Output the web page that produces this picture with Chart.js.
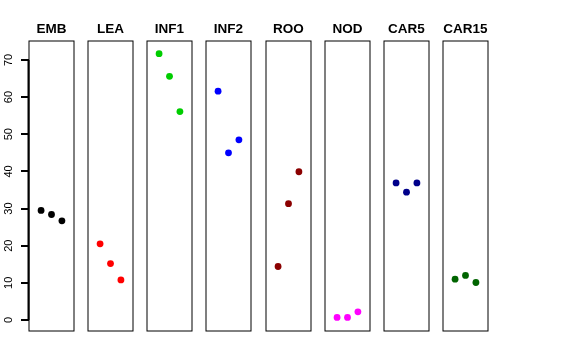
<!DOCTYPE html>
<html>
<head>
<meta charset="utf-8">
<script src="https://cdn.jsdelivr.net/npm/chart.js@4/dist/chart.umd.min.js"></script>
<style>
  html, body { margin: 0; padding: 0; background: #ffffff; }
  #wrap { position: relative; width: 576px; height: 360px; overflow: hidden; background: #ffffff; }
  canvas { position: absolute; top: 0; }
</style>
</head>
<body>
<div id="wrap"></div>
<script>
// ---- data ----
const categories = ["EMB", "LEA", "INF1", "INF2", "ROO", "NOD", "CAR5", "CAR15"];
const replicates = [1, 2, 3];
const valuesEMB   = [29.5, 28.4, 26.7];
const valuesLEA   = [20.5, 15.2, 10.8];
const valuesINF1  = [71.7, 65.6, 56.1];
const valuesINF2  = [61.6, 45.0, 48.5];
const valuesROO   = [14.4, 31.3, 39.9];
const valuesNOD   = [0.7, 0.7, 2.2];
const valuesCAR5  = [36.9, 34.4, 36.9];
const valuesCAR15 = [11.0, 12.0, 10.1];
const seriesValues = [valuesEMB, valuesLEA, valuesINF1, valuesINF2, valuesROO, valuesNOD, valuesCAR5, valuesCAR15];
const colors = ["#000000", "#FF0000", "#00CD00", "#0000FF", "#8B0000", "#FF00FF", "#00008B", "#006400"];
const yTicks = [0, 10, 20, 30, 40, 50, 60, 70];

// ---- layout ----
const Y_MIN = -2.96, Y_MAX = 75.1;
const X_MIN = -0.16, X_MAX = 4.16;
const boxLefts = [29, 88, 147, 206, 266, 325, 384, 443];
const boxW = 45;
const H = 360;
const TICK_LEN = 8;
const FONT = "'Liberation Sans', Arial, Helvetica, sans-serif";

const boxPlugin = {
  id: 'panelBox',
  afterDraw(chart) {
    const a = chart.chartArea, ctx = chart.ctx;
    ctx.save();
    ctx.strokeStyle = '#000000';
    ctx.lineWidth = 1;
    ctx.strokeRect(Math.round(a.left), Math.round(a.top), Math.round(a.right - a.left), Math.round(a.bottom - a.top));
    ctx.restore();
  }
};

const axisPlugin = {
  id: 'leftAxis',
  afterDraw(chart) {
    const a = chart.chartArea, ctx = chart.ctx;
    const ys = chart.scales.y;
    const ax = Math.round(a.left);
    ctx.save();
    ctx.strokeStyle = '#000000';
    ctx.lineWidth = 2;
    ctx.beginPath();
    ctx.moveTo(ax - 0.5, Math.round(ys.getPixelForValue(yTicks[0])));
    ctx.lineTo(ax - 0.5, Math.round(ys.getPixelForValue(yTicks[yTicks.length - 1])));
    ctx.stroke();
    for (const v of yTicks) {
      const py = Math.round(ys.getPixelForValue(v));
      ctx.beginPath();
      ctx.moveTo(ax - TICK_LEN, py);
      ctx.lineTo(ax, py);
      ctx.stroke();
    }
    ctx.restore();
  }
};

const wrap = document.getElementById('wrap');
categories.forEach((name, i) => {
  const first = i === 0;
  const padL = first ? 0 : 8;
  const padR = 8;
  const width = first ? boxLefts[0] + boxW + padR : padL + boxW + padR;
  const left = first ? 0 : boxLefts[i] - padL;
  const cv = document.createElement('canvas');
  cv.width = width; cv.height = H;
  cv.style.left = left + 'px';
  cv.style.width = width + 'px'; cv.style.height = H + 'px';
  wrap.appendChild(cv);

  new Chart(cv, {
    type: 'scatter',
    data: {
      datasets: [{
        data: replicates.map((x, k) => ({ x: x, y: seriesValues[i][k] })),
        backgroundColor: colors[i],
        borderColor: colors[i],
        borderWidth: 0,
        pointRadius: 3.4,
        pointHoverRadius: 3.4
      }]
    },
    options: {
      responsive: false,
      animation: false,
      devicePixelRatio: 1,
      events: [],
      layout: { padding: { left: padL, right: padR, top: 0, bottom: H - 331 } },
      plugins: {
        legend: { display: false },
        tooltip: { enabled: false },
        title: {
          display: true,
          text: name,
          fullSize: false,
          color: '#000000',
          font: { family: FONT, size: 13.5, weight: 'bold' },
          padding: { top: 21.5, bottom: 3.3 }
        }
      },
      scales: {
        x: { type: 'linear', min: X_MIN, max: X_MAX, display: false },
        y: {
          type: 'linear',
          min: Y_MIN, max: Y_MAX,
          display: first,
          position: 'left',
          afterFit(scale) { if (first) { scale.width = boxLefts[0]; } },
          afterBuildTicks(scale) { scale.ticks = yTicks.map(v => ({ value: v })); },
          border: { display: false },
          grid: { display: true, drawOnChartArea: false, drawTicks: true, tickLength: TICK_LEN, color: 'rgba(0,0,0,0)' },
          ticks: {
            color: '#000000',
            font: { family: FONT, size: 11 },
            minRotation: 90, maxRotation: 90,
            crossAlign: 'center',
            padding: 6,
            autoSkip: false
          }
        }
      }
    },
    plugins: first ? [boxPlugin, axisPlugin] : [boxPlugin]
  });
});
</script>
</body>
</html>
